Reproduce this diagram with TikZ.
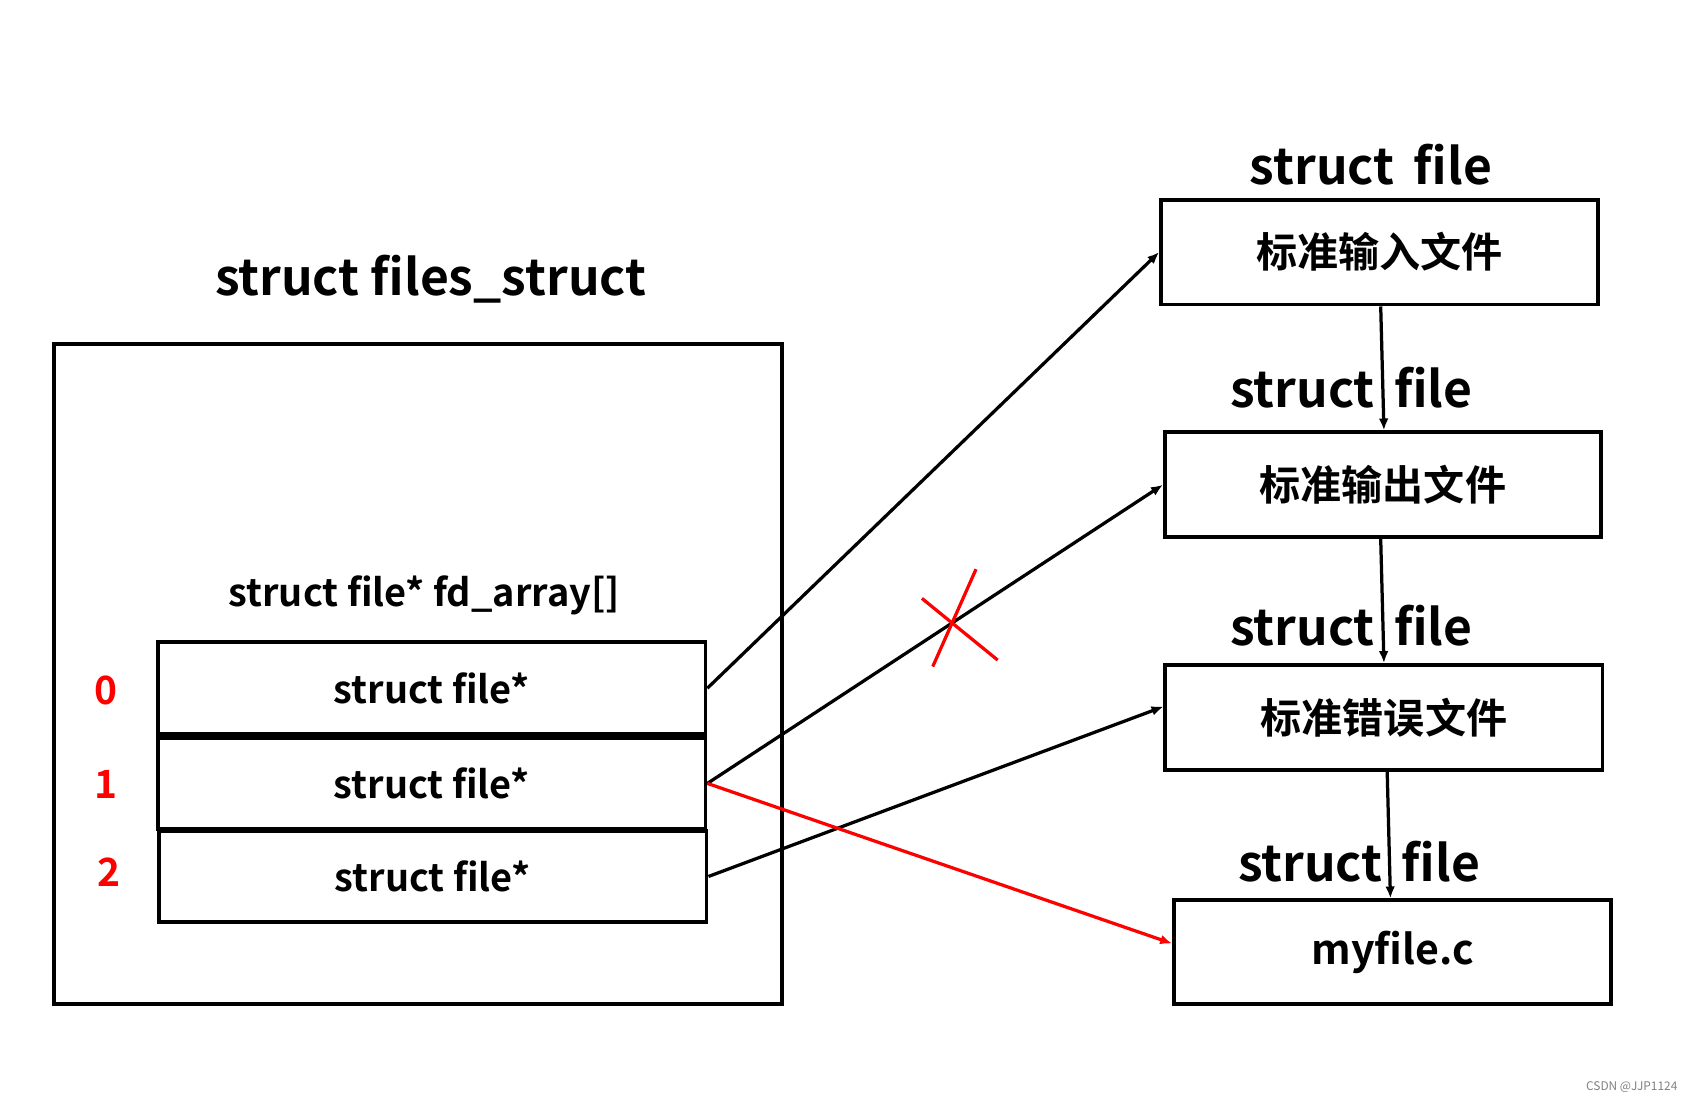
\documentclass[tikz,border=0pt]{standalone}
\usepackage{fontspec}
\setmainfont{Noto Sans CJK SC}[BoldFont={* Bold}]
\usetikzlibrary{arrows.meta}
\begin{document}
\begin{tikzpicture}[x=1pt,y=-1pt,
  box/.style={draw,line width=3.5pt,inner sep=0pt,font=\bfseries\fontsize{38}{44}\selectfont},
  lbl/.style={inner sep=0pt,font=\bfseries\fontsize{46}{54}\selectfont},
  idx/.style={inner sep=0pt,text=red,font=\bfseries\fontsize{36}{42}\selectfont},
  arr/.style={line width=3pt,-{Latex[length=11pt,width=9pt]}}]
\useasboundingbox (0,0) rectangle (1560,1014);
\node[box,minimum width=673pt,minimum height=610pt] (outer) at (386.5,623) {};
\node[lbl] (title) at (398,258) {struct files\_struct};
\node[inner sep=0pt,font=\bfseries\fontsize{35}{42}\selectfont] (fda) at (392,550) {struct file* fd\_array[]};
\node[box,font=\bfseries\fontsize{35}{42}\selectfont,minimum width=506pt,minimum height=85pt] (r0) at (399,636) {struct file*};
\node[box,font=\bfseries\fontsize{35}{42}\selectfont,minimum width=506pt,minimum height=84pt] (r1) at (399,724) {struct file*};
\node[box,font=\bfseries\fontsize{35}{42}\selectfont,minimum width=506pt,minimum height=84pt] (r2) at (400,810) {struct file*};
\node[idx] (i0) at (98,638) {0};
\node[idx] (i1) at (98,725) {1};
\node[idx] (i2) at (101,806) {2};
\node[box,minimum width=404pt,minimum height=97pt] (A) at (1275,233) {标准输入文件};
\node[box,minimum width=403pt,minimum height=97pt] (B) at (1278,448) {标准输出文件};
\node[box,minimum width=404pt,minimum height=97pt] (C) at (1279,663) {标准错误文件};
\node[box,minimum width=404pt,minimum height=96pt] (D) at (1287,880) {myfile.c};
\node[lbl] (l0) at (1267,152) {struct\hspace{18pt}file};
\node[lbl] (l1) at (1249,358) {struct\hspace{18pt}file};
\node[lbl] (l2) at (1249,578) {struct\hspace{18pt}file};
\node[lbl] (l3) at (1256,796) {struct\hspace{18pt}file};
\draw[arr] (r0.east) -- (A.west);
\draw[arr] (r1.east) -- (B.west);
\draw[arr] (r2.east) -- ([yshift=10pt]C.west);
\draw[arr,red] (r1.east) -- ([yshift=8pt]D.west);
\draw[arr] ([xshift=1pt]A.south) -- ([xshift=1pt]B.north);
\draw[arr] ([xshift=-2pt]B.south) -- ([xshift=0pt]C.north);
\draw[arr] ([xshift=3pt]C.south) -- ([xshift=-2pt]D.north);
\coordinate (x1) at (902,526); \coordinate (x2) at (862,616);
\coordinate (x3) at (852,553); \coordinate (x4) at (922,610);
\draw[red,line width=3pt] (x1) -- (x2);
\draw[red,line width=3pt] (x3) -- (x4);
\node[text=gray,font=\fontsize{11}{13}\selectfont] (wm) at (1508,1005) {CSDN @JJP1124};
\end{tikzpicture}
\end{document}
